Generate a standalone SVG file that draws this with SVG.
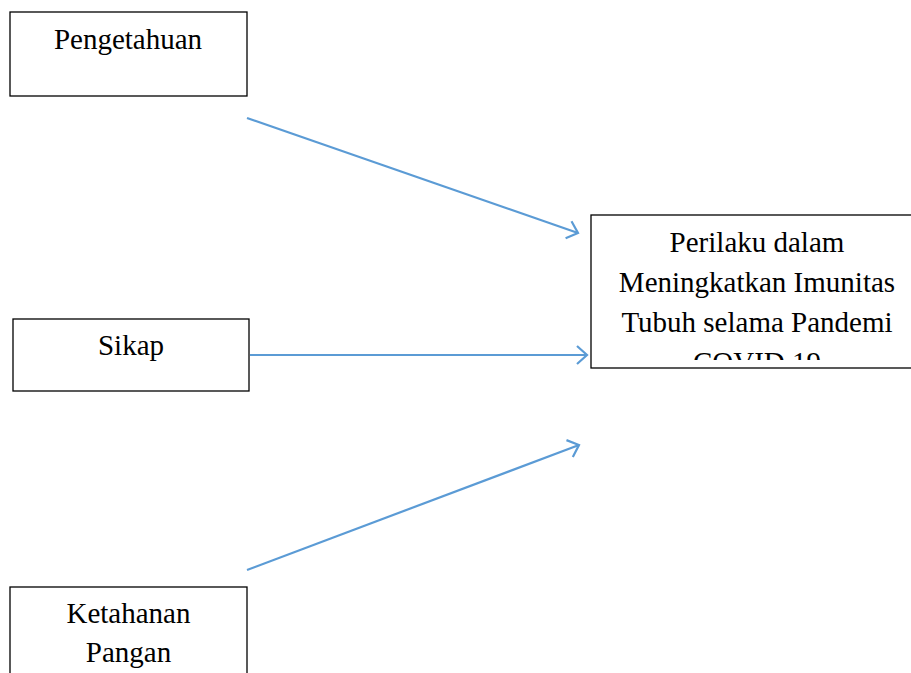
<svg xmlns="http://www.w3.org/2000/svg" width="911" height="673" viewBox="0 0 911 673">
<style>
.box{fill:#fff;stroke:#000;stroke-width:1.3}
.t{font-family:"Liberation Serif","Times New Roman",serif;font-size:29px;fill:#000;text-anchor:middle}
.c{stroke:#5B9BD5;stroke-width:2.2;fill:none}
</style>
<defs>
<marker id="ah" viewBox="0 0 14 20" refX="12" refY="10" markerWidth="14" markerHeight="20" markerUnits="userSpaceOnUse" orient="auto">
<path d="M2,1 L12,10 L2,19" fill="none" stroke="#5B9BD5" stroke-width="2.2"/>
</marker>
<clipPath id="clipP"><rect x="591" y="215" width="330" height="145"/></clipPath>
</defs>
<rect width="911" height="673" fill="#fff"/>
<g id="n-pengetahuan">
<rect class="box" x="10" y="12" width="237" height="84"/>
<text class="t" x="128" y="49">Pengetahuan</text>
</g>
<g id="n-sikap">
<rect class="box" x="13" y="319" width="236" height="72"/>
<text class="t" x="131" y="355">Sikap</text>
</g>
<g id="n-ketahanan">
<rect class="box" x="10" y="587" width="237" height="100"/>
<text class="t" x="128.5" y="623">Ketahanan</text>
<text class="t" x="128.5" y="662">Pangan</text>
</g>
<g id="n-perilaku">
<rect class="box" x="591" y="215" width="335" height="153"/>
<g clip-path="url(#clipP)">
<text class="t" x="757" y="252">Perilaku dalam</text>
<text class="t" x="757" y="292">Meningkatkan Imunitas</text>
<text class="t" x="757" y="332">Tubuh selama Pandemi</text>
<text class="t" x="757" y="372">COVID 19</text>
</g>
</g>
<g id="connectors">
<line class="c" x1="247" y1="118" x2="578" y2="233" marker-end="url(#ah)"/>
<line class="c" x1="250" y1="355" x2="587" y2="355" marker-end="url(#ah)"/>
<line class="c" x1="247" y1="570" x2="579" y2="445" marker-end="url(#ah)"/>
</g>
</svg>
